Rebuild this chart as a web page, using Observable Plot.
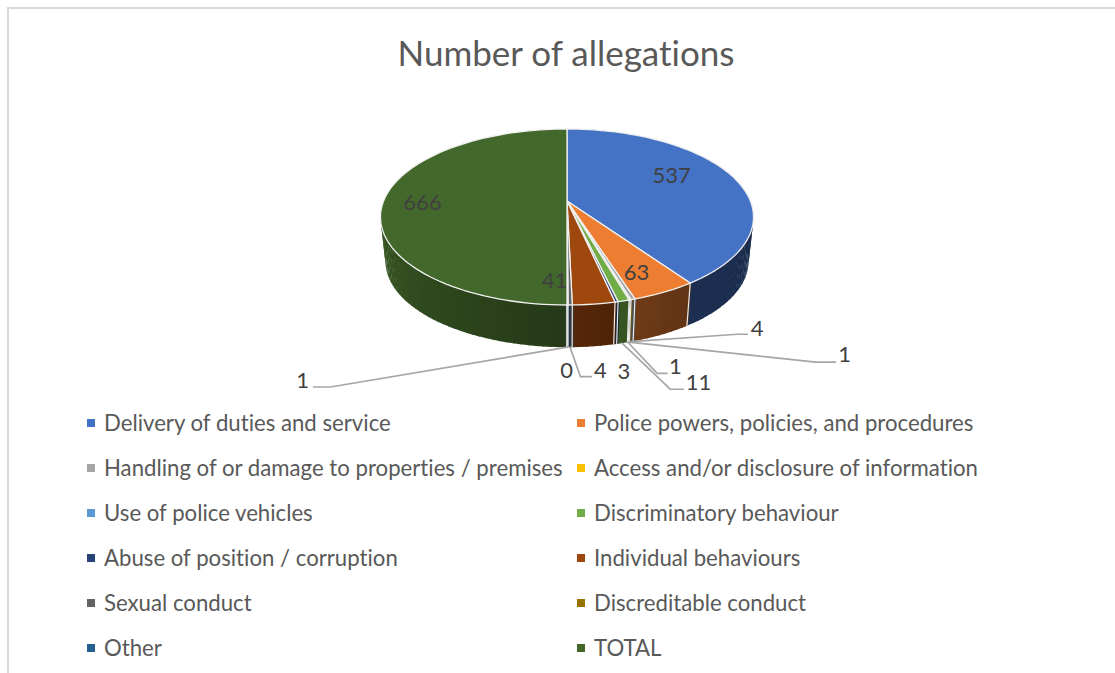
<!DOCTYPE html>
<html>
<head>
<meta charset="utf-8">
<script src="https://cdn.jsdelivr.net/npm/d3@7"></script>
<script src="https://cdn.jsdelivr.net/npm/@observablehq/plot@0.6"></script>
<style>
html,body{margin:0;padding:0;background:#fff;}
#page{position:relative;width:1115px;height:673px;overflow:hidden;font-family:Lato,sans-serif;font-variant-ligatures:none;font-feature-settings:"liga" 0;}
#frame{position:absolute;left:7px;top:7px;width:1108px;height:666px;border-left:2px solid #d9d9d9;border-top:2px solid #d9d9d9;box-sizing:border-box;}
#title{position:absolute;left:0;width:1132px;top:30px;text-align:center;font-size:35px;line-height:44px;color:#595959;}
#plot{position:absolute;left:0;top:100px;}
#legend{position:absolute;left:87px;top:400px;display:grid;grid-template-columns:490px 490px;grid-auto-rows:45px;font-size:22.2px;color:#595959;}
#legend div{display:flex;align-items:center;height:45px;white-space:nowrap;}
#legend i{display:inline-block;width:8px;height:8px;margin-right:9px;flex:none;}
</style>
</head>
<body>
<div id="page">
<div id="frame"></div>
<div id="title">Number of allegations</div>
<div id="plot"></div>
<div id="legend"></div>
</div>
<script>
const categories = ["Delivery of duties and service","Police powers, policies, and procedures","Handling of or damage to properties / premises","Access and/or disclosure of information","Use of police vehicles","Discriminatory behaviour","Abuse of position / corruption","Individual behaviours","Sexual conduct","Discreditable conduct","Other","TOTAL"];
const values = [537,63,4,1,1,11,3,41,4,0,1,666];
const colors = ["#4472c4","#ed7d31","#a5a5a5","#ffc000","#5b9bd5","#70ad47","#264478","#9e480e","#636363","#997300","#255e91","#43682b"];

// perspective model of the pie disc
const cx = 566.5, topY = 200.5, botY = 245.5, depthK = -0.1818, rimA = 85.1, rimB = 183.4, botScale = 0.973;
function project(deg, bottom) {
  const t = deg * Math.PI / 180, u = Math.sin(t), v = -Math.cos(t), w = 1 + depthK * v, s = bottom ? botScale : 1;
  return {x: cx + s * rimB * u / w, y: (bottom ? botY : topY) + s * rimA * v / w};
}
const total = d3.sum(values);
const cum = d3.cumsum(values);
const slices = values.map((value, i) => {
  const a1 = cum[i] / total * 360, a0 = a1 - value / total * 360;
  return {i, value, a0, a1, mid: (a0 + a1) / 2};
});
const shadeOf = d3.scaleLinear().domain([100,150,180,225,290]).range([0.38,0.42,0.55,0.72,0.95]).clamp(true);
function shade(hex, deg) {
  const c = d3.rgb(hex), f = shadeOf(deg);
  return d3.rgb(c.r * f, c.g * f, c.b * f).formatHex();
}

const sidePts = [], topPts = [], edgePts = [];
const quads = [];
slices.filter(s => s.value > 0).forEach(s => {
  const n = Math.max(1, Math.ceil((s.a1 - s.a0) / 2));
  const top = [{x: cx, y: topY, id: s.i, fill: colors[s.i]}];
  for (let k = 0; k <= n; k++) {
    const a = s.a0 + (s.a1 - s.a0) * k / n;
    top.push({...project(a, false), id: s.i, fill: colors[s.i]});
    if (k < n) {
      const b = s.a0 + (s.a1 - s.a0) * (k + 1) / n;
      quads.push({mid: (a + b) / 2, i: s.i, a, b});
    }
  }
  top.push(top[0]);
  topPts.push(...top);
});
quads.sort((p, q) => Math.abs(p.mid - 180) < Math.abs(q.mid - 180) ? 1 : -1).forEach((q, id) => {
  const fill = shade(colors[q.i], q.mid);
  // widen each wall strip slightly so that no seam shows between neighbours
  const a = q.mid < 180 ? q.a - 0.4 : q.a, b = q.mid < 180 ? q.b : q.b + 0.4;
  [project(a, false), project(b, false), project(b, true), project(a, true), project(a, false)]
    .forEach(p => sidePts.push({...p, id, fill}));
});
// slice edges on the visible front wall
slices.filter(s => s.value > 0 && s.a0 > 100 && s.a0 < 260).forEach(s => {
  edgePts.push({...project(s.a0, false), id: s.i}, {...project(s.a0, true), id: s.i});
});
edgePts.push({...project(180, false), id: 99}, {...project(180, true), id: 99});

// label placement: offsets from the rim anchor of each slice
const innerOffsets = new Map([[0,[-61.4,-1.3]],[1,[-27.7,-19.6]],[7,[-39.4,-23.5]],[11,[38.9,1.5]]]);
const outerOffsets = new Map([
  [2,{elbow:[106,-7.4],stub:10,label:[126,-13.2]}],
  [3,{elbow:[186.7,20],stub:20,label:[215.7,12.5]}],
  [4,{elbow:[29.3,31.1],stub:10,label:[47.6,24.5]}],
  [5,{elbow:[48.4,46.1],stub:12.7,label:[76.4,39.3]}],
  [6,{label:[8.7,28.2]}],
  [8,{elbow:[10.4,29.5],stub:10.7,label:[30.4,23.3]}],
  [9,{label:[-1.3,23.3]}],
  [10,{elbow:[-236.9,39.8],stub:-17,label:[-264.9,33.3]}]
]);
const labels = [], leaders = [];
slices.forEach(s => {
  if (innerOffsets.has(s.i)) {
    const p = project(s.mid, false), o = innerOffsets.get(s.i);
    labels.push({x: p.x + o[0], y: p.y + o[1], text: String(s.value)});
  }
  if (outerOffsets.has(s.i)) {
    const p = project(s.mid, true), o = outerOffsets.get(s.i);
    labels.push({x: p.x + o.label[0], y: p.y + o.label[1], text: String(s.value)});
    if (o.elbow) {
      const ex = p.x + o.elbow[0], ey = p.y + o.elbow[1];
      leaders.push({x: p.x, y: p.y, id: s.i}, {x: ex, y: ey, id: s.i}, {x: ex + o.stub, y: ey, id: s.i});
    }
  }
});

const chart = Plot.plot({
  width: 1115, height: 300,
  marginTop: 0, marginRight: 0, marginBottom: 0, marginLeft: 0,
  x: {domain: [0, 1115], range: [0, 1115], axis: null},
  y: {domain: [100, 400], range: [0, 300], axis: null},
  color: {type: "identity"},
  style: {background: "transparent", fontFamily: "Lato, sans-serif", overflow: "visible"},
  marks: [
    Plot.line(sidePts, {x: "x", y: "y", z: "id", fill: "fill", stroke: null}),
    Plot.line(edgePts, {x: "x", y: "y", z: "id", stroke: "#e9e9e9", strokeWidth: 1.2}),
    Plot.line(topPts, {x: "x", y: "y", z: "id", fill: "fill", stroke: "#f0f0f0", strokeWidth: 1.3}),
    Plot.line(leaders, {x: "x", y: "y", z: "id", stroke: "#a6a6a6", strokeWidth: 1.7}),
    Plot.text(labels, {x: "x", y: "y", text: "text", fontSize: 22, fill: "#404040"})
  ]
});
document.getElementById("plot").appendChild(chart);

const legend = d3.select("#legend");
categories.forEach((name, i) => {
  const row = legend.append("div");
  row.append("i").style("background", colors[i]);
  row.append("span").text(name);
});
</script>
</body>
</html>
